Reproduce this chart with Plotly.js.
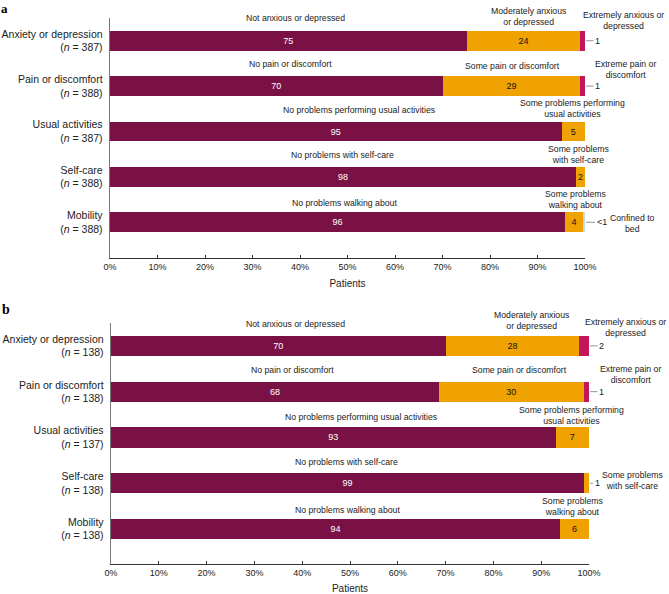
<!DOCTYPE html>
<html><head><meta charset="utf-8">
<script src="https://cdn.plot.ly/plotly-3.0.1.min.js"></script>
<style>html,body{margin:0;padding:0;background:#fff}#chart{width:669px;height:594px}</style>
</head><body><div id="chart"></div>
<script>
// ---------- data ----------
const dimensions = ["Anxiety or depression", "Pain or discomfort", "Usual activities", "Self-care", "Mobility"];
const nA = [387, 388, 387, 388, 388];
const nB = [138, 138, 137, 138, 138];

// level descriptions
const levelNo = ["Not anxious or depressed", "No pain or discomfort", "No problems performing usual activities", "No problems with self-care", "No problems walking about"];
const levelSome = ["Moderately anxious<br>or depressed", "Some pain or discomfort", "Some problems performing<br>usual activities", "Some problems<br>with self-care", "Some problems<br>walking about"];
const levelExtreme = ["Extremely anxious or<br>depressed", "Extreme pain or<br>discomfort", "", "", ""];
const levelConfined = ["", "", "", "", "Confined to<br>bed"];

// panel a (% of patients)
const noProblemsA = [75.1, 70.0, 95.1, 98.1, 95.8];
const someProblemsA = [23.9, 29.0, 4.9, 1.9, 3.8];
const extremeA = [1.0, 1.0, 0, 0, 0];
const confinedA = [0, 0, 0, 0, 0.4];
const noLabelA = ["75", "70", "95", "98", "96"];
const someLabelA = ["24", "29", "5", "2", "4"];
const extremeLabelA = ["1", "1", "", "", ""];
const confinedLabelA = ["", "", "", "", "<1"];

// panel b (% of patients)
const noProblemsB = [70.0, 68.6, 93.0, 99.0, 93.9];
const someProblemsB = [28.0, 30.3, 7.0, 1.0, 6.1];
const extremeB = [2.0, 1.1, 0, 0, 0];
const confinedB = [0, 0, 0, 0, 0];
const noLabelB = ["70", "68", "93", "99", "94"];
const someLabelB = ["28", "30", "7", "", "6"];
const someOutsideLabelB = ["", "", "", "1", ""];
const extremeLabelB = ["2", "1", "", "", ""];

const xTicks = [0, 10, 20, 30, 40, 50, 60, 70, 80, 90, 100];
const xTickText = ["0%", "10%", "20%", "30%", "40%", "50%", "60%", "70%", "80%", "90%", "100%"];

// ---------- style ----------
const C_NO = "#7a1145", C_SOME = "#f0a202", C_EXT = "#c2185b", C_CONF = "#c9d9ec";
const FONT = "Liberation Sans, Arial, sans-serif";
const W = 669, H = 594;
const AF = 8.7; // annotation font size

const panels = [
  {n: nA, no: noProblemsA, some: someProblemsA, ext: extremeA, conf: confinedA,
   noL: noLabelA, someL: someLabelA, someOut: ["", "", "", "", ""], extL: extremeLabelA, confL: confinedLabelA,
   xd: [110 / W, 585 / W], yd: [1 - 258 / H, 1 - 18 / H], ppx: 4.75,
   place: {
     no: [[39, 22.5], [38, 22.5], [52.6, 21.8], [49, 22], [49.4, 19.5]],
     some: [[88.2, 24.5], [84.8, 20.5], [97.4, 22.8], [98.7, 22.3], [97.9, 23.2]],
     ext: [[108.1, 19.7], [108.6, 16.8], null, null, null],
     conf: [null, null, null, null, [110, -0.7]],
     out: [12.5, 12.5, 0, 0, 16.5]
   }},
  {n: nB, no: noProblemsB, some: someProblemsB, ext: extremeB, conf: confinedB,
   noL: noLabelB, someL: someLabelB, someOut: someOutsideLabelB, extL: extremeLabelB, confL: ["", "", "", "", ""],
   xd: [111 / W, 589 / W], yd: [1 - 564 / H, 1 - 323 / H], ppx: 4.78,
   place: {
     no: [[38.7, 21.8], [38, 21.5], [52.5, 20.8], [49.2, 21], [49.4, 18.8]],
     some: [[88, 25], [85.4, 21.5], [96.4, 21.7], [109.2, 2.8], [96.6, 22.5]],
     ext: [[107.7, 18.8], [108.6, 16.8], null, null, null],
     conf: [null, null, null, null, null],
     out: [12.7, 12.5, 0, 8, 0]
   }}
];

const traces = [];
const annotations = [];
const layout = {
  width: W, height: H, margin: {l: 0, r: 0, t: 0, b: 0},
  paper_bgcolor: "#fff", plot_bgcolor: "#fff",
  barmode: "stack", bargap: 0.56, showlegend: false,
  font: {family: FONT, size: 9, color: "#222"}
};

panels.forEach((p, k) => {
  const sfx = k === 0 ? "" : "2";
  const xa = "x" + sfx, ya = "y" + sfx;
  const cats = dimensions.map((d, i) => d + "<br>(<i>n</i> = " + p.n[i] + ")");
  const mk = (vals, labels, color, tcolor) => ({
    type: "bar", orientation: "h", x: vals, y: cats, xaxis: xa, yaxis: ya,
    marker: {color: color, line: {width: 0}},
    text: labels, textposition: "inside", insidetextanchor: "middle",
    textangle: 0, constraintext: "none",
    insidetextfont: {family: FONT, size: 9, color: tcolor},
    hoverinfo: "skip", cliponaxis: false
  });
  traces.push(mk(p.no, p.noL, C_NO, "#ffffff"));
  traces.push(mk(p.some, p.someL, C_SOME, "#111111"));
  traces.push(mk(p.ext, p.ext.map(() => ""), C_EXT, "#ffffff"));
  traces.push(mk(p.conf, p.conf.map(() => ""), C_CONF, "#111111"));

  layout["xaxis" + sfx] = {
    domain: p.xd, anchor: ya, range: [0, 100], tickmode: "array", tickvals: xTicks, ticktext: xTickText,
    ticks: "inside", ticklen: 3, tickcolor: "#333", showline: true, linecolor: "#333", linewidth: 1.3,
    showgrid: false, zeroline: false, automargin: false,
    tickfont: {size: 9, color: "#222"},
    title: {text: "Patients", font: {size: 10, color: "#222"}, standoff: 9}
  };
  layout["yaxis" + sfx] = {
    domain: p.yd, anchor: xa, type: "category", autorange: "reversed",
    showline: true, linecolor: "#777", linewidth: 1.3, ticks: "", showgrid: false, zeroline: false,
    automargin: false, tickfont: {size: 10.5, color: "#222"}, ticklabelstandoff: 4
  };

  const addText = (pl, txt, i) => {
    if (!pl || !txt) return;
    const xv = pl[0];
    annotations.push({
      xref: xa, yref: ya, x: Math.min(xv, 100), y: cats[i],
      xshift: xv > 100 ? (xv - 100) * p.ppx : 0, yshift: pl[1],
      text: txt, showarrow: false, xanchor: "center", yanchor: "middle",
      font: {size: AF, color: "#222"}
    });
  };
  cats.forEach((c, i) => {
    addText(p.place.no[i], levelNo[i], i);
    addText(p.place.some[i], levelSome[i], i);
    addText(p.place.ext[i], levelExtreme[i], i);
    addText(p.place.conf[i], levelConfined[i], i);
    const outTxt = p.extL[i] || p.confL[i] || p.someOut[i];
    if (outTxt) {
      annotations.push({
        xref: xa, yref: ya, x: 100, y: c, text: outTxt,
        showarrow: true, arrowhead: 0, arrowwidth: 0.8, arrowcolor: "#777",
        ax: p.place.out[i], ay: 0, standoff: 1,
        font: {size: 9, color: "#222"}
      });
    }
  });
});

annotations.push({xref: "paper", yref: "paper", x: 0, y: 1, xanchor: "left", yanchor: "top", borderpad: 0,
  text: "<b>a</b>", showarrow: false, font: {family: "Liberation Serif, DejaVu Serif, serif", size: 13, color: "#000"}});
annotations.push({xref: "paper", yref: "paper", x: 0, y: 1 - 309 / H, xanchor: "left", yanchor: "middle",
  text: "<b>b</b>", showarrow: false, font: {family: "Liberation Serif, DejaVu Serif, serif", size: 14, color: "#000"}});
layout.annotations = annotations;

Plotly.newPlot("chart", traces, layout, {staticPlot: true, displayModeBar: false});
</script>
</body></html>
